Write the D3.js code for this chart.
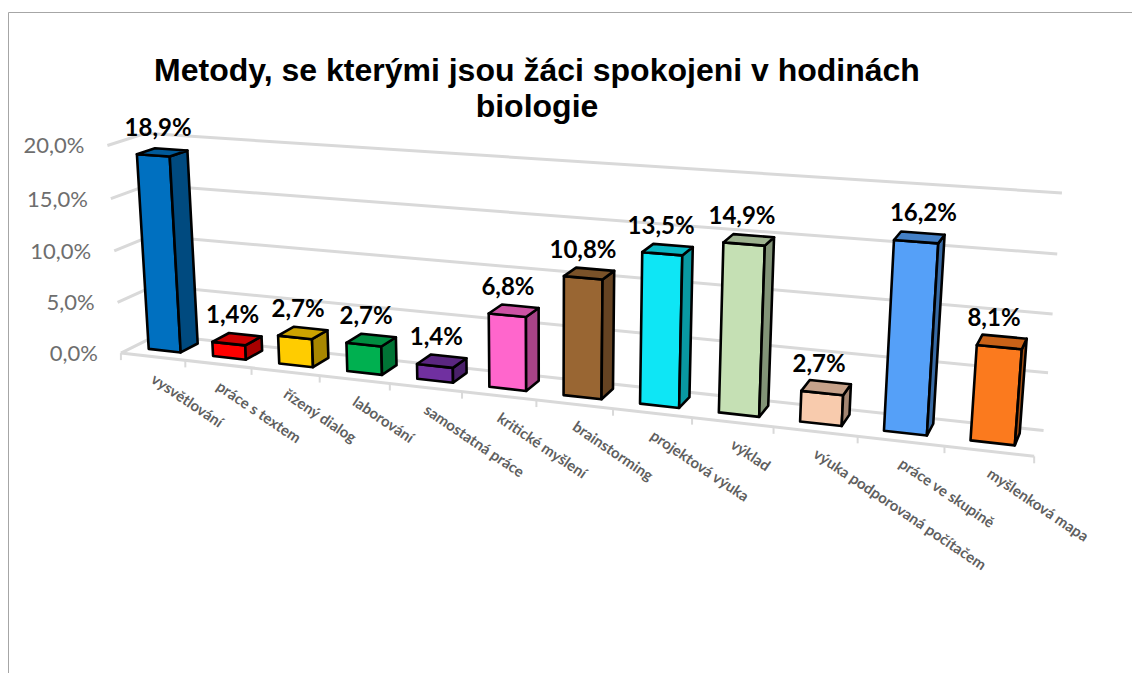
<!DOCTYPE html>
<html><head><meta charset="utf-8">
<script src="https://cdn.jsdelivr.net/npm/d3@7"></script>
<style>html,body{margin:0;padding:0;background:#fff}svg{display:block}</style>
</head><body>
<svg id="c" width="1132" height="673"></svg>
<script>
const titleLines = ["Metody, se kterými jsou žáci spokojeni v hodinách", "biologie"];
const categories = ["vysvětlování","práce s textem","řízený dialog","laborování","samostatná práce","kritické myšlení","brainstorming","projektová výuka","výklad","výuka podporovaná počítačem","práce ve skupině","myšlenková mapa"];
const values = [18.9,1.4,2.7,2.7,1.4,6.8,10.8,13.5,14.9,2.7,16.2,8.1];
const valueLabels = ["18,9%","1,4%","2,7%","2,7%","1,4%","6,8%","10,8%","13,5%","14,9%","2,7%","16,2%","8,1%"];
const barColors = ["#0070c0","#ff0000","#ffcc00","#00b050","#7030a0","#ff66cc","#996633","#0ee6f5","#c5e0b4","#f8cbad","#55a0f8","#fb7a1e"];
const yTicks = [0,5,10,15,20];
const yTickLabels = ["0,0%","5,0%","10,0%","15,0%","20,0%"];

// Camera calibration: (axis fraction, value fraction, depth) -> screen point
const calibration = [
 [0,0,0,122,353],[1/12,0,0,186,360],[3/12,0,0,320,376],[.5,0,0,536,401],[9/12,0,0,773,428],[1,0,0,1034,457],
 [0,0,1,157,335],[1,0,1,1044,429],
 [0,1,1,147,134],[1,1,1,1062,194],[1,.75,1,1057,254],[1,.5,1,1053,313],[1,.25,1,1048,372],
 [0,.75,1,149,185],[0,.5,1,151,236],[0,.25,1,154,286],
 [0,1,0,107,145],[0,.75,0,110,198],[0,.5,0,114,250],[0,.25,0,118,302]
];
function solve(A,b){const n=b.length,M=A.map((r,i)=>[...r,b[i]]);
 for(let i=0;i<n;i++){let p=i;for(let k=i+1;k<n;k++)if(Math.abs(M[k][i])>Math.abs(M[p][i]))p=k;[M[i],M[p]]=[M[p],M[i]];
  for(let k=0;k<n;k++)if(k!==i){const f=M[k][i]/M[i][i];for(let j=i;j<=n;j++)M[k][j]-=f*M[i][j];}}
 return M.map((r,i)=>r[n]/r[i]);}
const P=(()=>{const rows=[],rhs=[];
 calibration.forEach(([u,v,d,x,y])=>{
  rows.push([u,v,d,1,0,0,0,0,-x*u,-x*v,-x*d]);rhs.push(x);
  rows.push([0,0,0,0,u,v,d,1,-y*u,-y*v,-y*d]);rhs.push(y);});
 const n=11,A=d3.range(n).map(i=>d3.range(n).map(j=>d3.sum(rows,r=>r[i]*r[j]))),b=d3.range(n).map(i=>d3.sum(rows,(r,k)=>r[i]*rhs[k]));
 return solve(A,b);})();
function project(u,v,d){const w=P[8]*u+P[9]*v+P[10]*d+1;
 return [(P[0]*u+P[1]*v+P[2]*d+P[3])/w,(P[4]*u+P[5]*v+P[6]*d+P[7])/w];}

const xBand=d3.scaleBand().domain(categories).range([0,1]).paddingInner(.5).paddingOuter(.25);
const yScale=d3.scaleLinear().domain([0,20]).range([0,1]);
const depthNear=.32, depthFar=.8, depthLabel=.56;

const svg=d3.select("#c");
const line=d3.line();
// frame
svg.append("path").attr("d","M8.5,673V12.5H1132").attr("fill","none").attr("stroke","#a6a6a6").attr("stroke-width",1);
// title
svg.selectAll("text.title").data(titleLines).join("text").attr("class","title")
 .attr("x",537).attr("y",(d,i)=>81+i*36).attr("text-anchor","middle")
 .attr("font-family","'Liberation Sans'").attr("font-weight","bold").attr("font-size",32).attr("fill","#000").text(d=>d);
// gridlines
const grid=svg.append("g").attr("fill","none").attr("stroke","#d9d9d9").attr("stroke-width",3);
yTicks.forEach(t=>{const v=yScale(t);
 grid.append("path").attr("d",line([project(0,v,0),project(0,v,1),project(1,v,1)]));});
// floor front axis + ticks
grid.append("path").attr("d",line([project(0,0,0),project(1,0,0)]));
d3.range(categories.length+1).forEach(i=>{const p=project(i*xBand.step(),0,0);
 grid.append("path").attr("stroke-width",2).attr("d",line([p,[p[0],p[1]+7]]));});
// y labels
svg.selectAll("text.yl").data(yTicks).join("text").attr("class","yl")
 .attr("x",t=>project(0,yScale(t),0)[0]-23).attr("y",t=>project(0,yScale(t),0)[1]+8)
 .attr("text-anchor","end").attr("font-family","Lato").attr("font-size",22).attr("fill","#6e6e6e")
 .text((t,i)=>yTickLabels[i]);
// bars
const shade=(c,f)=>{const r=d3.rgb(c);return d3.rgb(r.r*f,r.g*f,r.b*f).formatHex();};
const bars=svg.append("g").attr("stroke","#000").attr("stroke-width",2.6).attr("stroke-linejoin","round");
categories.forEach((c,i)=>{
 const u0=xBand(c),u1=u0+xBand.bandwidth(),v=yScale(values[i]),n=depthNear,f=depthFar;
 const poly=(pts,fill)=>bars.append("path").attr("d",line(pts.map(p=>project(...p)))+"Z").attr("fill",fill);
 poly([[u0,0,n],[u1,0,n],[u1,v,n],[u0,v,n]],barColors[i]);
 poly([[u1,0,n],[u1,0,f],[u1,v,f],[u1,v,n]],shade(barColors[i],.66));
 poly([[u0,v,n],[u1,v,n],[u1,v,f],[u0,v,f]],shade(barColors[i],.8));
});
// value labels
const labelU=c=>xBand(c)+xBand.bandwidth()/2;
const labelAnchor=(c,i)=>project(labelU(c),yScale(values[i]),depthLabel);
svg.selectAll("text.vl").data(categories).join("text").attr("class","vl")
 .attr("x",(c,i)=>labelAnchor(c,i)[0]-4-4*labelU(c)+(i===10?11.5:0))
 .attr("y",(c,i)=>labelAnchor(c,i)[1]-16)
 .attr("text-anchor","middle").attr("font-family","Lato").attr("font-weight","bold").attr("font-size",24).attr("fill","#000")
 .text((c,i)=>valueLabels[i]);
// category labels
svg.selectAll("text.cl").data(categories).join("text").attr("class","cl")
 .attr("transform",c=>{const p=project(labelU(c),0,0);return `translate(${p[0]-3},${p[1]+25}) rotate(34)`;})
 .attr("font-family","Lato").attr("font-weight","bold").attr("font-size",15).attr("fill","#5f5f5f")
 .text(c=>c);
</script>
</body></html>
